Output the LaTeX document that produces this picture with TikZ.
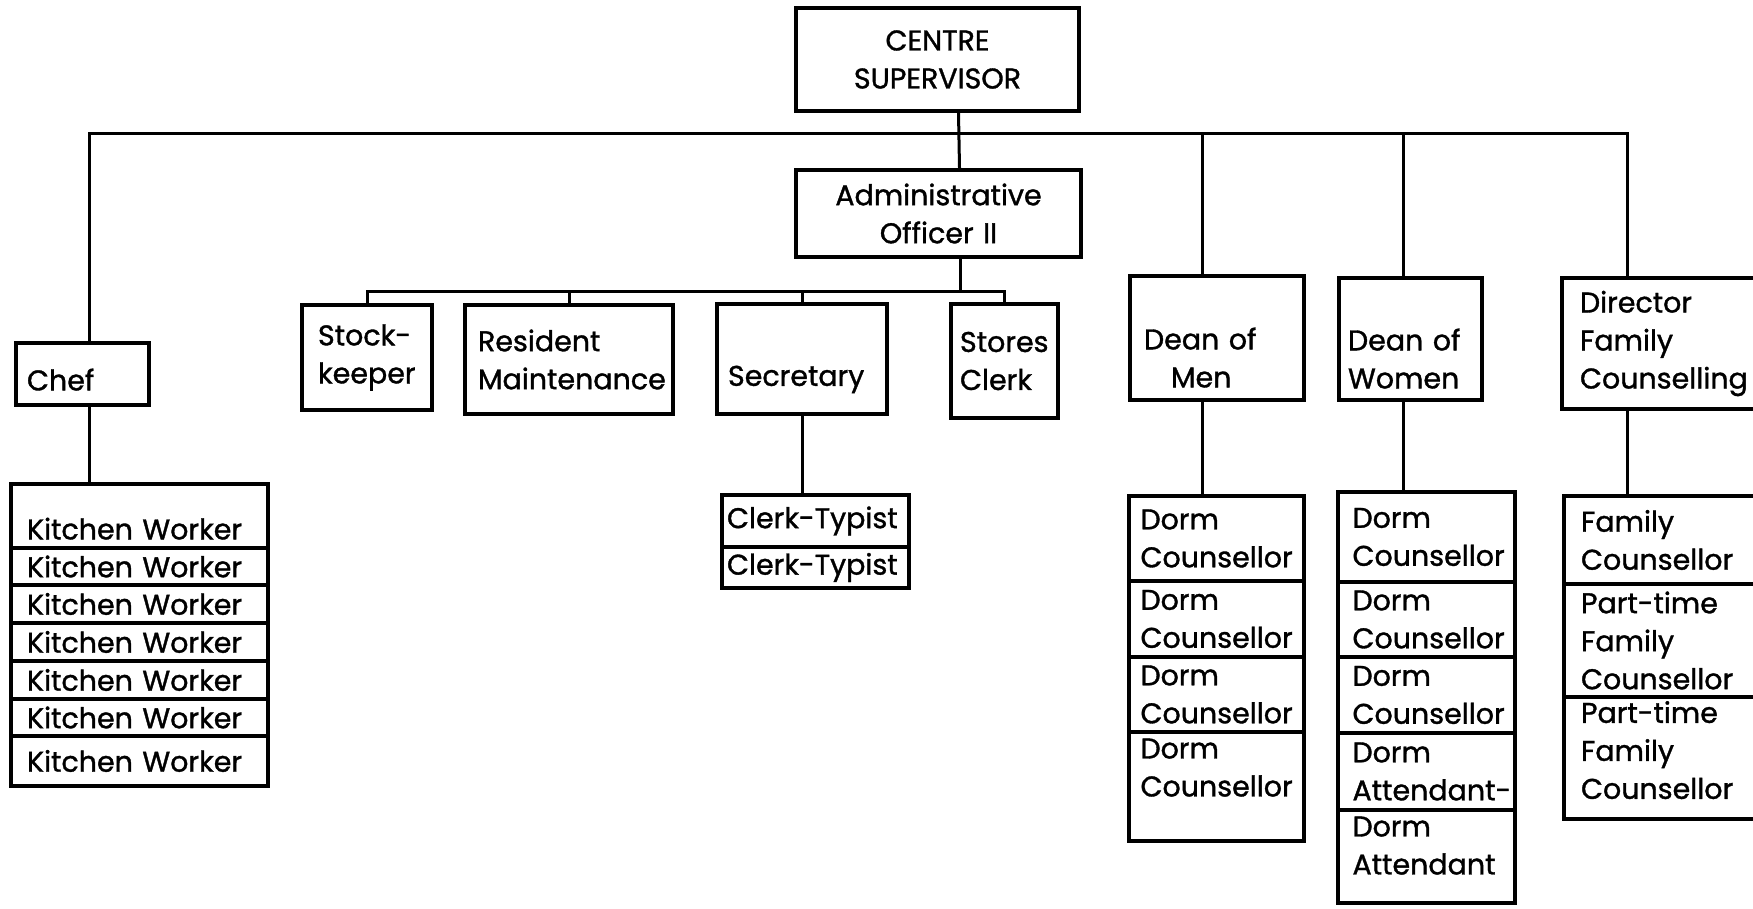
\documentclass[tikz,border=0pt]{standalone}
\usepackage{fontspec}
\setmainfont{Poppins}[FakeBold=1.2]
\begin{document}
\begin{tikzpicture}[x=1pt, y=-1pt,
    every node/.style={draw, line width=4pt, inner sep=0pt, align=left,
        font=\fontsize{28.5}{38}\selectfont},
    link/.style={line width=3pt}]
    \useasboundingbox (0,0) rectangle (1753,908);

    % Nodes
    \node[minimum width=283pt, minimum height=103pt, text width=250pt, align=center] at (937.5,59.5) (sup) {CENTRE\\SUPERVISOR};
    \node[minimum width=285pt, minimum height=87pt, text width=260pt, align=center] at (938.5,213.5) (adm) {Administrative\\Officer II};
    \node[minimum width=130pt, minimum height=105pt, text width=98pt] at (367,357.5) (stock) {Stock-\\keeper};
    \node[minimum width=208pt, minimum height=109pt, text width=182pt] at (569,359.5) (resid) {Resident\\Maintenance};
    \node[minimum width=170pt, minimum height=110pt, text width=148pt, text height=61pt] at (802,359) (secr) {Secretary};
    \node[minimum width=107pt, minimum height=114pt, text width=89pt] at (1004.5,361) (stores) {Stores\\Clerk};
    \node[minimum width=133pt, minimum height=62pt, text width=111pt, text height=33pt] at (82.5,374) (chef) {Chef};
    \node[minimum width=174pt, minimum height=124pt, text width=146pt, text height=61pt] at (1217,338) (dmen) {Dean of\\\hspace*{27pt}Men};
    \node[minimum width=143pt, minimum height=122pt, text width=125pt, text height=61pt] at (1410.5,339) (dwom) {\mbox{Dean of}\\Women};
    \node[minimum width=240pt, minimum height=131pt, text width=204pt] at (1682,343.5) (dirfc) {Director\\Family\\Counselling};

    % Kitchen workers
    \node[minimum width=257pt, minimum height=64pt, text width=225pt, text height=47pt] at (139.5,516) (kw1) {Kitchen Worker};
    \foreach \t/\b [count=\i from 2] in {548/585,585/623,623/661,661/699,699/736,736/786}
        \node[minimum width=257pt, minimum height={\b-\t}, text width=225pt] at (139.5,{(\t+\b)/2}) (kw\i) {Kitchen Worker};

    % Clerk-typists
    \node[minimum width=187pt, minimum height=52pt, text width=177pt] at (815.5,521) (ct1) {\mbox{Clerk-Typist}};
    \node[minimum width=187pt, minimum height=41pt, text width=177pt] at (815.5,567.5) (ct2) {\mbox{Clerk-Typist}};

    % Dorm staff
    \foreach \t/\b [count=\i] in {496/581,581/657,657/732}
        \node[minimum width=175pt, minimum height={\b-\t}, text width=152pt] at (1216.5,{(\t+\b)/2}) (dm\i) {Dorm\\Counsellor};
    \node[minimum width=175pt, minimum height=109pt, text width=152pt, text depth=76pt] at (1216.5,786.5) (dm4) {Dorm\\Counsellor};

    \foreach \t/\b [count=\i] in {492/582,582/657,657/733}
        \node[minimum width=177pt, minimum height={\b-\t}, text width=148pt] at (1426.5,{(\t+\b)/2}) (dw\i) {Dorm\\\mbox{Counsellor}};
    \node[minimum width=177pt, minimum height=77pt, text width=148pt] at (1426.5,771.5) (dw4) {Dorm\\\mbox{Attendant-}};
    \node[minimum width=177pt, minimum height=93pt, text width=148pt, text depth=60pt] at (1426.5,856.5) (dw5) {Dorm\\Attendant};

    % Family counsellors
    \node[minimum width=238pt, minimum height=88pt, text width=204pt] at (1683,540) (fc1) {Family\\Counsellor};
    \node[minimum width=238pt, minimum height=113pt, text width=204pt] at (1683,640.5) (fc2) {\mbox{Part-time}\\Family\\Counsellor};
    \node[minimum width=238pt, minimum height=122pt, text width=204pt, text depth=92pt] at (1683,758) (fc3) {\mbox{Part-time}\\Family\\Counsellor};

    % Edges
    \coordinate (bus) at (0,133);
    \coordinate (sub) at (0,291);
    \draw[link] ([xshift=7pt]chef.north) |- ([xshift=-55pt]dirfc.north |- bus) -- ([xshift=-55pt]dirfc.north);
    \draw[link] ([xshift=21pt]sup.south) -- ([xshift=21pt]adm.north);
    \draw[link] ([xshift=-15pt]dmen.north) -- ([xshift=-15pt]dmen.north |- bus);
    \draw[link] ([xshift=-7pt]dwom.north) -- ([xshift=-7pt]dwom.north |- bus);

    \draw[link] ([xshift=22pt]adm.south) -- ([xshift=22pt]adm.south |- sub);
    \draw[link] (stock.north) |- (stores.north |- sub) -- (stores.north);
    \foreach \n in {resid,secr}
        \draw[link] (\n.north) -- (\n.north |- sub);

    \draw[link] ([xshift=7pt]chef.south) -- ([xshift=7pt]chef.south |- kw1.north);
    \draw[link] (secr.south) -- (secr.south |- ct1.north);
    \draw[link] ([xshift=-15pt]dmen.south) -- ([xshift=-15pt]dmen.south |- dm1.north);
    \draw[link] ([xshift=-7pt]dwom.south) -- ([xshift=-7pt]dwom.south |- dw1.north);
    \draw[link] ([xshift=-55pt]dirfc.south) -- ([xshift=-55pt]dirfc.south |- fc1.north);
\end{tikzpicture}
\end{document}
